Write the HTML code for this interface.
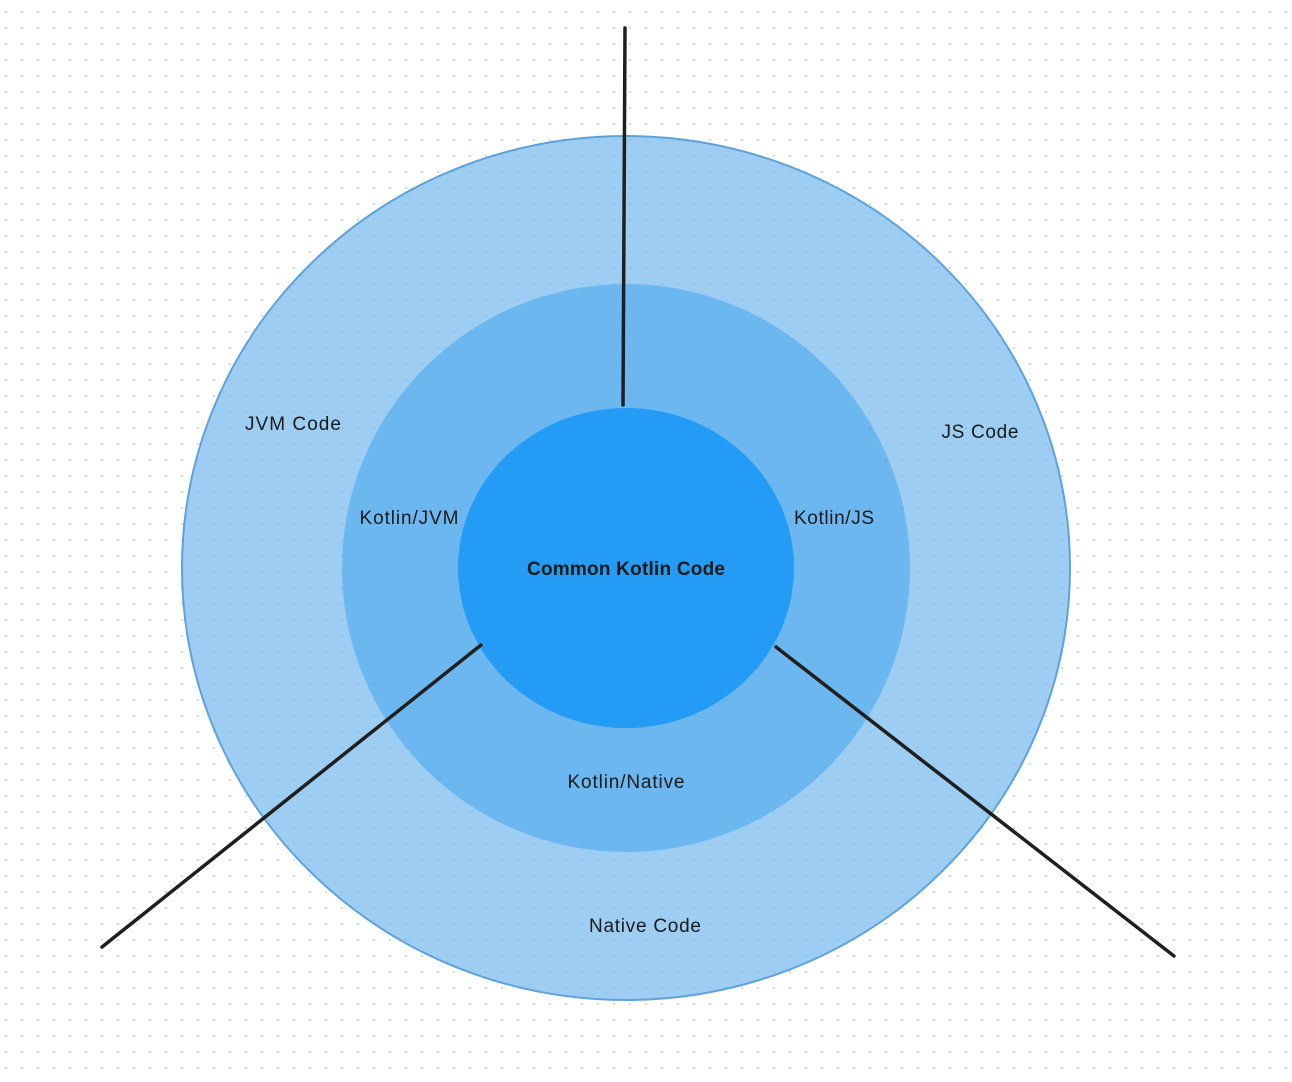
<!DOCTYPE html>
<html><head><style>
html,body{margin:0;padding:0;background:#fff}
svg{display:block}
text{font-family:"Liberation Sans",sans-serif;fill:#1a1a1a}
</style></head><body>
<svg width="1292" height="1082" viewBox="0 0 1292 1082">
<defs><pattern id="d" x="5" y="11" width="16" height="16" patternUnits="userSpaceOnUse"><rect x="0" y="0" width="2" height="2" fill="#d9d9d9"/></pattern>
<pattern id="d2" x="5" y="11" width="16" height="16" patternUnits="userSpaceOnUse"><rect x="0" y="0" width="2" height="2" fill="#000" opacity="0.05"/></pattern></defs>
<rect width="1292" height="1082" fill="#fff"/>
<rect width="1292" height="1082" fill="url(#d)"/>
<ellipse cx="626" cy="568" rx="444" ry="432" fill="#9dcdf2" stroke="#5fa2da" stroke-width="2"/>
<ellipse cx="626" cy="568" rx="284" ry="284" fill="#6cb7ef"/>
<ellipse cx="626" cy="568" rx="444" ry="432" fill="url(#d2)"/>
<ellipse cx="626" cy="568" rx="168" ry="160" fill="#249cf5"/>
<g stroke="#1f1f1f" stroke-width="3.5" stroke-linecap="round">
<line x1="625" y1="28" x2="623" y2="405"/>
<line x1="481" y1="645" x2="102" y2="947"/>
<line x1="776" y1="647" x2="1174" y2="956"/>
</g>
<g font-size="19" text-anchor="middle">
<text x="293" y="430" textLength="96">JVM Code</text>
<text x="980" y="438" textLength="77">JS Code</text>
<text x="409" y="524" textLength="99">Kotlin/JVM</text>
<text x="834" y="524" textLength="80">Kotlin/JS</text>
<text x="626" y="575" font-weight="bold" textLength="198">Common Kotlin Code</text>
<text x="626" y="788" textLength="117">Kotlin/Native</text>
<text x="645" y="932" textLength="112">Native Code</text>
</g>
</svg>
</body></html>
